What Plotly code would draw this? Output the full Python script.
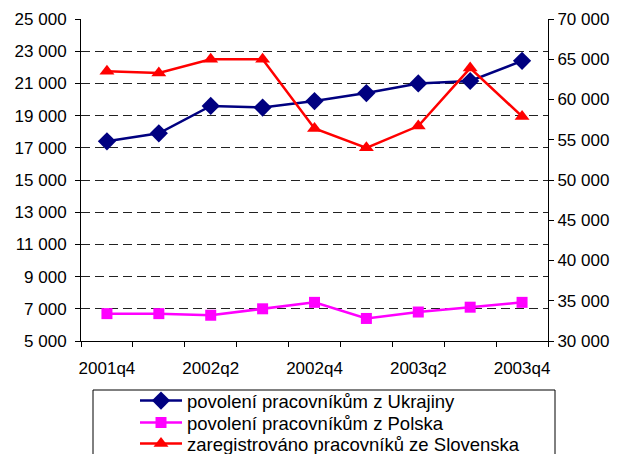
import plotly.graph_objects as go

quarters = ["2001q4", "2002q1", "2002q2", "2002q3", "2002q4",
            "2003q1", "2003q2", "2003q3", "2003q4"]
tick_labels = ["2001q4", "", "2002q2", "", "2002q4", "", "2003q2", "", "2003q4"]

ukrajina = [17400, 17900, 19600, 19500, 19900, 20400, 21000, 21150, 22400]
polsko = [6700, 6700, 6600, 7000, 7400, 6400, 6800, 7100, 7400]
slovensko = [63500, 63300, 65000, 65000, 56400, 54000, 56700, 63900, 57900]

names = ["povolení pracovníkům z Ukrajiny",
         "povolení pracovníkům z Polska",
         "zaregistrováno pracovníků ze Slovenska"]

FONT = "Liberation Sans, Arial, sans-serif"
OFF = 8                      # default page body margin
W, H = 619 - OFF, 454 - OFF  # figure size so it fits in the window
# plot area in figure pixels
PL, PR, PT, PB = 81 - OFF, 548 - OFF, 19 - OFF, 341 - OFF
PW, PH = PR - PL, PB - PT


def px_x(x):
    return (x - OFF - PL) / PW


def px_y(y):
    return (PB - (y - OFF)) / PH


fig = go.Figure()
fig.add_trace(go.Scatter(x=quarters, y=ukrajina, name=names[0], mode="lines+markers",
                         legend="legend",
                         line=dict(color="#000080", width=2.5),
                         marker=dict(symbol="diamond", size=14, color="#000080")))
fig.add_trace(go.Scatter(x=quarters, y=polsko, name=names[1], mode="lines+markers",
                         legend="legend2",
                         line=dict(color="#FF00FF", width=2.5),
                         marker=dict(symbol="square", size=11, color="#FF00FF")))
fig.add_trace(go.Scatter(x=quarters, y=slovensko, name=names[2], mode="lines+markers",
                         yaxis="y2", legend="legend3",
                         line=dict(color="#FF0000", width=2.5),
                         marker=dict(symbol="triangle-up", size=13, color="#FF0000")))

leg_common = dict(xanchor="left", yanchor="middle", bgcolor="rgba(0,0,0,0)",
                  borderwidth=0, font=dict(size=18.5), itemwidth=42)

fig.update_layout(
    width=W, height=H,
    margin=dict(l=PL, r=W - PR, t=PT, b=H - PB, autoexpand=False),
    paper_bgcolor="white", plot_bgcolor="white",
    separators=", ",
    font=dict(family=FONT, size=17, color="black"),
    showlegend=True,
    legend=dict(x=px_x(135), y=px_y(401), **leg_common),
    legend2=dict(x=px_x(135), y=px_y(423), **leg_common),
    legend3=dict(x=px_x(135), y=px_y(444), **leg_common),
    xaxis=dict(type="category", tickvals=quarters, ticktext=tick_labels,
               tickson="boundaries", ticks="outside", ticklen=5, tickcolor="black",
               showline=True, linecolor="black", linewidth=1, showgrid=False,
               range=[-0.5, 8.5], tickangle=0, automargin=False,
               ticklabelstandoff=12, tickfont=dict(size=17)),
    yaxis=dict(range=[5000, 25000], dtick=2000, tick0=5000, tickformat=",d",
               ticks="outside", ticklen=5, tickcolor="black",
               showline=True, linecolor="black", linewidth=1,
               showgrid=True, gridcolor="#222222", griddash="9px,5px", gridwidth=1,
               zeroline=False, automargin=False, ticklabelstandoff=5,
               tickfont=dict(size=17)),
    yaxis2=dict(range=[30000, 70000], dtick=5000, tick0=30000, tickformat=",d",
                overlaying="y", side="right",
                ticks="outside", ticklen=5, tickcolor="black",
                showline=True, linecolor="black", linewidth=1,
                showgrid=False, zeroline=False, automargin=False,
                ticklabelstandoff=0, tickfont=dict(size=17)),
    shapes=[dict(type="rect", xref="paper", yref="paper",
                 x0=px_x(93), x1=px_x(555), y0=px_y(470), y1=px_y(390),
                 line=dict(color="black", width=1), fillcolor="rgba(0,0,0,0)")],
)

fig.write_html("out.html")
